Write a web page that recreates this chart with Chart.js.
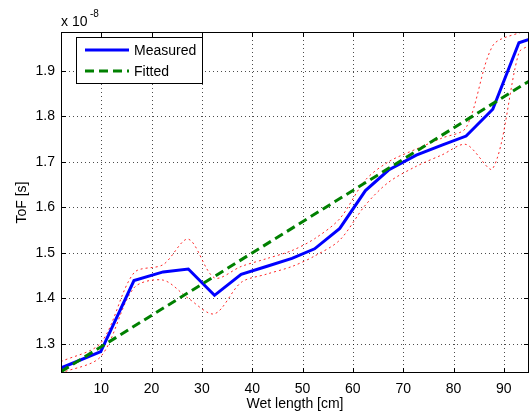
<!DOCTYPE html>
<html>
<head>
<meta charset="utf-8">
<title>ToF vs wet length</title>
<script src="https://cdn.jsdelivr.net/npm/chart.js@4/dist/chart.umd.min.js"></script>
<style>
    body { margin: 0; background: #fff; }
    canvas { display: block; }
</style>
</head>
<body>
<canvas id="tofChart" width="532" height="414"></canvas>
<script>
// Data (ToF in units of 1e-8 s)
const wetLength = [2, 9.9, 16.5, 22.3, 27.3, 32.5, 37.8, 42.8, 47.9, 52.4, 57.4, 62.5, 67.1, 72.6, 77.7, 82.5, 87.8, 93.0, 95];
const measured = [1.247, 1.283, 1.439, 1.458, 1.4645, 1.4066, 1.4526, 1.470, 1.4877, 1.5088, 1.5535, 1.6366, 1.6818, 1.7147, 1.7364, 1.7564, 1.8154, 1.9614, 1.9687];
const upperBound = [1.261, 1.302, 1.456, 1.474, 1.530, 1.445, 1.470, 1.487, 1.505, 1.531, 1.575, 1.660, 1.700, 1.728, 1.752, 1.775, 1.955, 1.983, 1.985];
const lowerBound = [1.236, 1.272, 1.423, 1.440, 1.400, 1.366, 1.435, 1.453, 1.470, 1.493, 1.528, 1.605, 1.655, 1.690, 1.715, 1.738, 1.685, 1.940, 1.955];
const fitLength = [2, 95];
const fitted = [1.239, 1.877];

const xTicks = [10, 20, 30, 40, 50, 60, 70, 80, 90];
const yTicks = [1.3, 1.4, 1.5, 1.6, 1.7, 1.8, 1.9];
const legendOrder = ['Measured', 'Fitted'];

const FONT = '"Liberation Sans", Arial, sans-serif';

function toPoints(xs, ys) {
    return xs.map((v, i) => ({ x: v, y: ys[i] }));
}

// Dotted grid behind the lines
const dottedGrid = {
    id: 'dottedGrid',
    beforeDatasetsDraw(chart) {
        const ctx = chart.ctx;
        const a = chart.chartArea;
        ctx.save();
        ctx.strokeStyle = 'rgba(0,0,0,0.7)';
        ctx.lineWidth = 1;
        ctx.setLineDash([1, 3]);
        ctx.beginPath();
        xTicks.forEach(v => {
            const px = Math.round(chart.scales.x.getPixelForValue(v)) + 0.5;
            ctx.moveTo(px, a.top); ctx.lineTo(px, a.bottom);
        });
        yTicks.forEach(v => {
            const py = Math.round(chart.scales.y.getPixelForValue(v)) + 0.5;
            ctx.moveTo(a.left, py); ctx.lineTo(a.right, py);
        });
        ctx.stroke();
        ctx.restore();
    }
};

// Box, inward ticks, legend and labels in the MATLAB style
const matlabFrame = {
    id: 'matlabFrame',
    afterDatasetsDraw(chart) {
        const ctx = chart.ctx;
        const a = chart.chartArea;
        const xs = chart.scales.x;
        const ys = chart.scales.y;
        const tickLen = 5;

        ctx.save();
        ctx.strokeStyle = '#000';
        ctx.lineWidth = 1;
        ctx.setLineDash([]);
        ctx.beginPath();
        xTicks.forEach(v => {
            const px = Math.round(xs.getPixelForValue(v)) + 0.5;
            ctx.moveTo(px, a.bottom); ctx.lineTo(px, a.bottom - tickLen);
            ctx.moveTo(px, a.top); ctx.lineTo(px, a.top + tickLen);
        });
        yTicks.forEach(v => {
            const py = Math.round(ys.getPixelForValue(v)) + 0.5;
            ctx.moveTo(a.left, py); ctx.lineTo(a.left + tickLen, py);
            ctx.moveTo(a.right, py); ctx.lineTo(a.right - tickLen, py);
        });
        ctx.stroke();
        ctx.strokeRect(Math.round(a.left) + 0.5, Math.round(a.top) + 0.5,
            Math.round(a.width) - 1, Math.round(a.height) - 1);

        // legend
        const lx = 76, ly = 37, lw = 126, lh = 46;
        ctx.fillStyle = '#fff';
        ctx.fillRect(lx, ly, lw, lh);
        ctx.strokeRect(lx + 0.5, ly + 0.5, lw, lh);
        ctx.font = '14px ' + FONT;
        ctx.textBaseline = 'middle';
        ctx.textAlign = 'left';
        legendOrder.forEach((name, i) => {
            const d = chart.data.datasets.find(ds => ds.label === name);
            const y = ly + 13 + i * 21;
            ctx.strokeStyle = d.borderColor;
            ctx.lineWidth = d.borderWidth;
            ctx.setLineDash(d.borderDash || []);
            ctx.beginPath();
            ctx.moveTo(85, y); ctx.lineTo(129, y);
            ctx.stroke();
            ctx.fillStyle = '#000';
            ctx.fillText(d.label, 134, y + 1);
        });

        // axis labels and exponent
        ctx.setLineDash([]);
        ctx.fillStyle = '#000';
        ctx.textAlign = 'center';
        ctx.fillText('Wet length [cm]', (a.left + a.right) / 2, 404);
        ctx.save();
        ctx.translate(22, (a.top + a.bottom) / 2);
        ctx.rotate(-Math.PI / 2);
        ctx.fillText('ToF [s]', 0, 0);
        ctx.restore();
        ctx.textAlign = 'left';
        ctx.textBaseline = 'alphabetic';
        ctx.fillText('x 10', 61, 26);
        ctx.font = '10px ' + FONT;
        ctx.fillText('-8', 90, 17);
        ctx.restore();
    }
};

document.addEventListener('DOMContentLoaded', function() {
    Chart.defaults.font.family = FONT;
    Chart.defaults.font.size = 14;
    Chart.defaults.color = '#000';

    let ctx = document.getElementById('tofChart').getContext('2d');
    new Chart(ctx, {
        type: 'line',
        data: {
            datasets: [
                {
                    label: 'Fitted',
                    data: toPoints(fitLength, fitted),
                    borderColor: '#008000',
                    borderWidth: 3,
                    borderDash: [9, 5],
                    order: 0
                },
                {
                    label: 'Measured',
                    data: toPoints(wetLength, measured),
                    borderColor: '#0000ff',
                    borderWidth: 3,
                    order: 1
                },
                {
                    label: 'Upper',
                    data: toPoints(wetLength, upperBound),
                    borderColor: 'rgba(255, 0, 0, 0.85)',
                    borderWidth: 1,
                    borderDash: [2, 3],
                    tension: 0.3,
                    order: 2
                },
                {
                    label: 'Lower',
                    data: toPoints(wetLength, lowerBound),
                    borderColor: 'rgba(255, 0, 0, 0.85)',
                    borderWidth: 1,
                    borderDash: [2, 3],
                    tension: 0.3,
                    order: 2
                }
            ]
        },
        options: {
            responsive: false,
            animation: false,
            devicePixelRatio: 1,
            elements: { point: { radius: 0 } },
            layout: { padding: { top: 32, right: 3, left: 0, bottom: 0 } },
            plugins: { legend: { display: false }, tooltip: { enabled: false } },
            scales: {
                x: {
                    type: 'linear',
                    min: 2,
                    max: 95,
                    afterBuildTicks: s => { s.ticks = xTicks.map(v => ({ value: v })); },
                    afterFit: s => { s.height = 41; },
                    grid: { display: false, drawTicks: false },
                    border: { display: false },
                    ticks: { padding: 8, callback: v => String(v) }
                },
                y: {
                    type: 'linear',
                    min: 1.236,
                    max: 1.985,
                    afterBuildTicks: s => { s.ticks = yTicks.map(v => ({ value: v })); },
                    afterFit: s => { s.width = 61; },
                    grid: { display: false, drawTicks: false },
                    border: { display: false },
                    ticks: { padding: 6, callback: v => v.toFixed(1) }
                }
            }
        },
        plugins: [dottedGrid, matlabFrame]
    });
});
</script>
</body>
</html>
